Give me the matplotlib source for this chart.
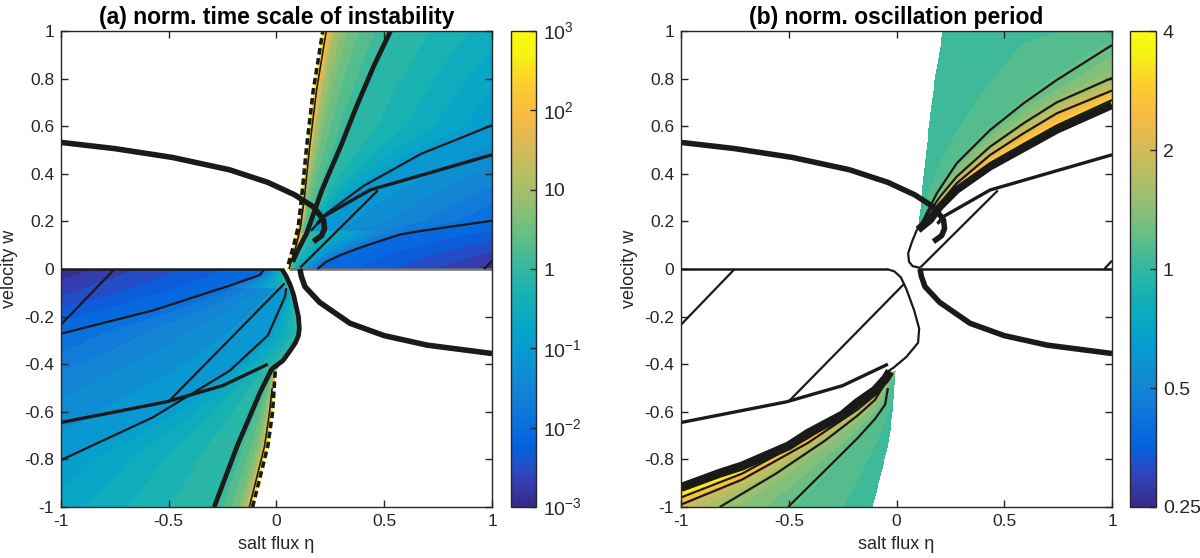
import numpy as np
import matplotlib
matplotlib.use("Agg")
import matplotlib.pyplot as plt
from matplotlib.colors import LinearSegmentedColormap, Normalize
from matplotlib.cm import ScalarMappable

plt.rcParams["font.family"] = ["Liberation Sans", "DejaVu Sans"]
plt.rcParams["mathtext.fontset"] = "custom"
plt.rcParams["mathtext.rm"] = "Liberation Sans"
plt.rcParams["axes.unicode_minus"] = False

# parula-like colour stops (MATLAB default map)
PARULA = [(0.2081, 0.1663, 0.5292), (0.1959, 0.2645, 0.7279), (0.0117, 0.3875, 0.8820),
          (0.0498, 0.4586, 0.8641), (0.0793, 0.5200, 0.8312), (0.0343, 0.5966, 0.8199),
          (0.0228, 0.6535, 0.7768), (0.0843, 0.6928, 0.7062), (0.2178, 0.7250, 0.6193),
          (0.3953, 0.7459, 0.5244), (0.5709, 0.7485, 0.4494), (0.7184, 0.7411, 0.3905),
          (0.8507, 0.7299, 0.3360), (0.9739, 0.7314, 0.2666), (0.9880, 0.8066, 0.1794),
          (0.9661, 0.9514, 0.0755), (0.9763, 0.9831, 0.0538)]
PARULA_POS = [0, 4, 8, 12, 16, 20, 24, 28, 32, 36, 40, 44, 48, 52, 56, 60, 63]

# ---- curves, (eta, w) ----
# thick parabola-like curves (same in both panels)
PARAB_UP = [(-1.0, 0.532), (-0.751, 0.506), (-0.484, 0.469), (-0.218, 0.417), (-0.04, 0.364),
            (0.084, 0.312), (0.173, 0.26), (0.218, 0.207), (0.223, 0.17), (0.209, 0.14), (0.171, 0.115)]
PARAB_LO = [(0.109, 0.0), (0.115, -0.03), (0.132, -0.074), (0.2, -0.14), (0.341, -0.228),
            (0.5, -0.28), (0.7, -0.32), (1.0, -0.355)]
STEP_UP = [(0.19, 0.19), (0.217, 0.22), (0.434, 0.332), (0.671, 0.394), (1.0, 0.48)]
STEP_LO = [(-1.0, -0.645), (-0.51, -0.558), (-0.25, -0.49), (-0.04, -0.4)]
DIAG_UP = [(0.47, 0.33), (0.11, 0.006)]
DIAG_LO1 = [(-0.5, -0.556), (0.038, -0.06)]
DIAG_LO2 = [(-1.0, -0.234), (-0.751, 0.0)]
DIAG_SMALL = [(0.964, 0.0), (1.0, 0.035)]

# (a) instability time scale, contour lines (log10 tau)
BOUND_UP = [(0.05, 0.0), (0.055, 0.02), (0.08, 0.10), (0.101, 0.178), (0.117, 0.304),
            (0.14, 0.514), (0.171, 0.752), (0.215, 1.0)]
TAU100_UP = [(0.058, 0.0), (0.068, 0.03), (0.092, 0.1), (0.112, 0.178), (0.13, 0.304),
             (0.154, 0.514), (0.186, 0.752), (0.231, 1.0)]
TAU1_UP = [(0.06, 0.0), (0.075, 0.03), (0.1, 0.08), (0.14, 0.15), (0.175, 0.24), (0.21, 0.33),
           (0.3, 0.52), (0.369, 0.678), (0.45, 0.85), (0.529, 1.0)]
TAU01_UP = [(0.16, 0.16), (0.227, 0.23), (0.404, 0.349), (0.671, 0.484), (1.0, 0.604)]
TAU001_UP = [(0.19, 0.0), (0.23, 0.03), (0.3, 0.06), (0.404, 0.095), (0.573, 0.145),
             (0.671, 0.16), (1.0, 0.203)]
BOUND_LO = [(-0.111, -1.0), (-0.075, -0.87), (-0.04, -0.743), (-0.018, -0.6), (-0.006, -0.43)]
C_LO = [(-0.006, -0.43), (0.03, -0.385), (0.062, -0.345), (0.088, -0.31), (0.102, -0.28),
        (0.106, -0.25), (0.102, -0.2), (0.092, -0.16), (0.08, -0.11), (0.065, -0.07),
        (0.045, -0.03), (0.025, 0.0)]
TAU100_LO = [(-0.126, -1.0), (-0.09, -0.87), (-0.055, -0.743), (-0.032, -0.6), (-0.02, -0.5)]
TAU1_LO = [(-0.289, -1.0), (-0.182, -0.743), (-0.076, -0.518), (-0.022, -0.42)]
TAU01_LO = [(-1.0, -0.803), (-0.573, -0.623), (-0.218, -0.428), (-0.04, -0.279), (0.04, -0.115),
            (0.045, -0.08)]
TAU001_LO = [(-1.0, -0.272), (-0.573, -0.174), (-0.218, -0.07), (-0.076, -0.025), (-0.06, -0.003)]
# log10 tau along the right / left border
EDGE_A_UP_W = [0.0, 0.1, 0.203, 0.35, 0.48, 0.604, 0.8, 1.0]
EDGE_A_UP_L = [-2.9, -2.5, -2.0, -1.6, -1.3, -1.0, -0.75, -0.52]
EDGE_A_LO_W = [-1.0, -0.803, -0.653, -0.45, -0.272, -0.18, -0.1, 0.0]
EDGE_A_LO_L = [-0.7, -1.0, -1.25, -1.55, -2.0, -2.35, -2.65, -2.95]
# between the boundary and the tau = 1 line: (fraction of the gap, log10 tau)
GAP_A = [(0.17, 1.0), (0.41, 0.5)]

# (b) oscillation period, contour lines (log2 P)
BAND_UP = [(0.1, 0.165), (0.156, 0.206), (0.202, 0.262), (0.279, 0.332), (0.434, 0.43),
           (0.589, 0.507), (0.743, 0.584), (1.0, 0.688)]
P3_UP = [(0.1, 0.168), (0.156, 0.215), (0.202, 0.27), (0.279, 0.343), (0.434, 0.445),
         (0.589, 0.525), (0.743, 0.603), (1.0, 0.71)]
P2_UP = [(0.1, 0.17), (0.202, 0.276), (0.279, 0.36), (0.434, 0.479), (0.589, 0.57),
         (0.743, 0.654), (1.0, 0.75)]
P15_UP = [(0.1, 0.172), (0.202, 0.304), (0.279, 0.388), (0.434, 0.514), (0.589, 0.612),
          (0.743, 0.70), (1.0, 0.803)]
P12_UP = [(0.094, 0.164), (0.124, 0.206), (0.187, 0.318), (0.279, 0.444), (0.434, 0.584),
          (0.589, 0.696), (0.743, 0.794), (1.0, 0.941)]
BAND_LO = [(-1.0, -0.918), (-0.82, -0.858), (-0.717, -0.828), (-0.5, -0.743), (-0.41, -0.69),
           (-0.25, -0.613), (-0.18, -0.56), (-0.1, -0.51), (-0.05, -0.46), (-0.03, -0.43)]
P3_LO = [(-1.0, -0.96), (-0.717, -0.86), (-0.41, -0.71), (-0.18, -0.575), (-0.1, -0.52), (-0.04, -0.45)]
P2_LO = [(-1.0, -0.99), (-0.717, -0.885), (-0.41, -0.73), (-0.18, -0.59), (-0.1, -0.53), (-0.04, -0.455)]
P15_LO = [(-0.82, -1.0), (-0.56, -0.86), (-0.33, -0.72), (-0.18, -0.615), (-0.1, -0.55), (-0.04, -0.46)]
P12_LO = [(-0.503, -1.0), (-0.33, -0.845), (-0.18, -0.71), (-0.1, -0.63), (-0.053, -0.57), (-0.04, -0.5)]
C_B = [(-0.045, 0.0), (-0.01, -0.01), (0.02, -0.035), (0.046, -0.085), (0.082, -0.174),
       (0.105, -0.25), (0.1, -0.31), (0.046, -0.369), (-0.013, -0.414), (-0.04, -0.43)]
LOOP_B = [(0.094, 0.164), (0.07, 0.11), (0.054, 0.066), (0.058, 0.03), (0.075, 0.012), (0.109, 0.005)]
EDGE_B_UP_W = [0.688, 0.71, 0.75, 0.803, 0.941, 1.0]
EDGE_B_UP_L = [2.0, 1.6, 1.0, 0.585, 0.263, 0.17]
EDGE_B_LO_W = [-1.0, -0.99, -0.962, -0.92]
EDGE_B_LO_L = [0.9, 1.0, 1.6, 2.0]

CB_A_TICKS = [-3, -2, -1, 0, 1, 2, 3]
CB_A_LABELS = ["$10^{-3}$", "$10^{-2}$", "$10^{-1}$", "1", "10", "$10^{2}$", "$10^{3}$"]
CB_B_TICKS = [-2, -1, 0, 1, 2]
CB_B_LABELS = ["0.25", "0.5", "1", "2", "4"]

parula = LinearSegmentedColormap.from_list(
    "parula", [(p / 63.0, c) for p, c in zip(PARULA_POS, PARULA)])


def arr(line):
    return np.array(line, dtype=float)


def at_w(line, w):
    a = arr(line)
    o = np.argsort(a[:, 1])
    return np.interp(w, a[o, 1], a[o, 0])


def gap_line(bound, inner, frac):
    # curve a given fraction of the way from the boundary to the tau = 1 line
    ws = arr(inner)[:, 1]
    eb = at_w(bound, ws)
    return list(zip(eb + frac * (arr(inner)[:, 0] - eb), ws))


def row_field(eta, w_rows, anchors, edges):
    # level along each row, tied to the read contour curves
    F = np.full((len(w_rows), len(eta)), np.nan)
    for i, w in enumerate(w_rows):
        xs, ls = [], []
        for line, lev in anchors:
            a = arr(line)
            if a[:, 1].min() <= w <= a[:, 1].max():
                xs.append(at_w(line, w))
                ls.append(lev if np.isscalar(lev) else np.interp(w, lev[0], lev[1]))
        for x0, ew, el in edges:
            if min(ew) <= w <= max(ew):
                xs.append(x0)
                ls.append(np.interp(w, ew, el))
        if len(xs) >= 2:
            o = np.argsort(xs)
            F[i] = np.interp(eta, np.array(xs)[o], np.array(ls)[o])
    return F


def draw(ax, line, **kw):
    a = arr(line)
    ax.plot(a[:, 0], a[:, 1], solid_capstyle="butt", solid_joinstyle="round", **kw)


N = 500
eta = np.linspace(-1, 1, N)

fig = plt.figure(figsize=(12, 5.58), dpi=100)
ax_a = fig.add_axes([0.0508, 0.0914, 0.3592, 0.853])
cax_a = fig.add_axes([0.4255, 0.0914, 0.0215, 0.853])
ax_b = fig.add_axes([0.5675, 0.0914, 0.3592, 0.853])
cax_b = fig.add_axes([0.9417, 0.0914, 0.0215, 0.853])

# ---------- (a) ----------
norm_a = Normalize(-3, 3)
lev_a = np.arange(-3, 3.001, 0.2)
w_up = np.linspace(0, 1, N // 2)
anch = [(BOUND_UP, 3.0), (TAU100_UP, 2.0), (TAU1_UP, 0.0), (TAU01_UP, -1.0), (TAU001_UP, -2.0)]
anch += [(gap_line(BOUND_UP, TAU1_UP[3:], f), lv) for f, lv in GAP_A]
F = row_field(eta, w_up, anch, [(1.0, EDGE_A_UP_W, EDGE_A_UP_L)])
E, W = np.meshgrid(eta, w_up)
F = np.ma.masked_where((E < at_w(BOUND_UP, W)) | np.isnan(F), np.clip(F, -2.99, 2.99))
ax_a.contourf(E, W, F, levels=lev_a, cmap=parula, norm=norm_a, zorder=1)

bound_lo_full = BOUND_LO + C_LO[1:]
w_lo = np.linspace(-1, 0, N // 2)
anch = [(bound_lo_full, ([-0.5, -0.4], [3.0, 0.0])), (TAU100_LO, 2.0),
        (TAU1_LO, 0.0), (TAU01_LO, -1.0), (TAU001_LO, -2.0)]
anch += [(gap_line(BOUND_LO, TAU1_LO, f), lv) for f, lv in GAP_A]
F = row_field(eta, w_lo, anch, [(-1.0, EDGE_A_LO_W, EDGE_A_LO_L)])
E, W = np.meshgrid(eta, w_lo)
F = np.ma.masked_where((E > at_w(bound_lo_full, W)) | np.isnan(F), np.clip(F, -2.99, 2.99))
ax_a.contourf(E, W, F, levels=lev_a, cmap=parula, norm=norm_a, zorder=1)

k = dict(color="#1a1a1a", zorder=3)
draw(ax_a, [(0.06, 0.0), (1.0, 0.0)], color="0.45", lw=1.8, zorder=2)
draw(ax_a, [(-1.0, 0.0), (0.025, 0.0)], lw=1.8, **k)
for line in (TAU01_UP, TAU001_UP, TAU01_LO, TAU001_LO, DIAG_UP, DIAG_LO1, DIAG_LO2, DIAG_SMALL):
    draw(ax_a, line, lw=1.6, **k)
for line in (TAU100_UP, TAU100_LO):
    draw(ax_a, line, lw=1.2, **k)
for line in (STEP_UP, STEP_LO):
    draw(ax_a, line, lw=2.4, **k)
for line in (BOUND_UP[1:], BOUND_LO):
    draw(ax_a, line, lw=2.6, dashes=(1.8, 1.0), **k)
draw(ax_a, TAU1_UP[1:], lw=3.4, **k)
draw(ax_a, TAU1_LO + C_LO[1:], lw=3.4, **k)
for line in (PARAB_UP, PARAB_LO):
    draw(ax_a, line, lw=4.0, **k)

# ---------- (b) ----------
norm_b = Normalize(-2, 2)
lev_b = np.arange(-2, 2.001, 0.125)
w_up = np.linspace(0.165, 1, N // 2)
F = row_field(eta, w_up, [(BOUND_UP, 0.0), (P12_UP, 0.263), (P15_UP, 0.585), (P2_UP, 1.0),
                          (P3_UP, 1.6), (BAND_UP, 2.0)],
              [(1.0, EDGE_B_UP_W, EDGE_B_UP_L)])
E, W = np.meshgrid(eta, w_up)
mask = (E < at_w(BOUND_UP, W)) | ((W <= 0.688) & (E > at_w(BAND_UP, W)))
F = np.ma.masked_where(mask | np.isnan(F), np.clip(F, -1.99, 1.99))
ax_b.contourf(E, W, F, levels=lev_b, cmap=parula, norm=norm_b, zorder=1)

w_lo = np.linspace(-1, -0.43, N // 2)
F = row_field(eta, w_lo, [(BAND_LO, 2.0), (P3_LO, 1.6), (P2_LO, 1.0), (P15_LO, 0.585),
                          (P12_LO, 0.263), (BOUND_LO, 0.05)],
              [(-1.0, EDGE_B_LO_W, EDGE_B_LO_L)])
E, W = np.meshgrid(eta, w_lo)
mask = (E > at_w(BOUND_LO, W)) | ((W >= -0.92) & (E < at_w(BAND_LO, W)))
F = np.ma.masked_where(mask | np.isnan(F), np.clip(F, -1.99, 1.99))
ax_b.contourf(E, W, F, levels=lev_b, cmap=parula, norm=norm_b, zorder=1)

draw(ax_b, [(-1.0, 0.0), (-0.045, 0.0)], lw=1.8, **k)
draw(ax_b, [(0.101, 0.0), (1.0, 0.0)], lw=1.8, **k)
for line in (P12_UP, P15_UP, P2_UP, P3_UP, P12_LO, P15_LO, P2_LO, P3_LO, C_B, LOOP_B,
             DIAG_UP, DIAG_LO1, DIAG_LO2, DIAG_SMALL):
    draw(ax_b, line, lw=1.6, **k)
for line in (STEP_UP, STEP_LO):
    draw(ax_b, line, lw=2.4, **k)
draw(ax_b, BAND_UP, lw=5.5, **k)
draw(ax_b, BAND_LO, lw=6.5, **k)
for line in (PARAB_UP, PARAB_LO):
    draw(ax_b, line, lw=4.0, **k)

# ---------- axes styling ----------
titles = ["(a) norm. time scale of instability", "(b) norm. oscillation period"]
for ax, t in zip((ax_a, ax_b), titles):
    ax.set_xlim(-1, 1)
    ax.set_ylim(-1, 1)
    ax.set_xticks([-1, -0.5, 0, 0.5, 1])
    ax.set_xticklabels(["-1", "-0.5", "0", "0.5", "1"])
    ax.set_yticks(np.round(np.arange(-1, 1.01, 0.2), 1))
    ax.set_yticklabels(["-1", "-0.8", "-0.6", "-0.4", "-0.2", "0", "0.2", "0.4", "0.6", "0.8", "1"])
    ax.tick_params(direction="in", length=5, width=1, top=True, right=True,
                   labelsize=12.5, colors="0.15", pad=5)
    for s in ax.spines.values():
        s.set_color("0.15")
        s.set_linewidth(1.0)
        s.set_zorder(5)
    ax.set_title(t, fontsize=16.5, fontweight="bold", pad=5)
    ax.set_xlabel("salt flux η", fontsize=13, color="0.15")
    ax.set_ylabel("velocity w", fontsize=13, color="0.15")
    ax.xaxis.set_label_coords(0.5, -0.06)
    ax.yaxis.set_label_coords(-0.1, 0.5)

for cax, norm, ticks, labels in ((cax_a, norm_a, CB_A_TICKS, CB_A_LABELS),
                                 (cax_b, norm_b, CB_B_TICKS, CB_B_LABELS)):
    cb = fig.colorbar(ScalarMappable(norm=norm, cmap=parula), cax=cax, ticks=ticks)
    cb.ax.set_yticklabels(labels)
    cb.outline.set_edgecolor("0.15")
    cb.outline.set_linewidth(1.0)
    cax.tick_params(direction="in", length=4, width=1, labelsize=14, colors="0.15", pad=5)

fig.savefig("out.png", dpi=100)
